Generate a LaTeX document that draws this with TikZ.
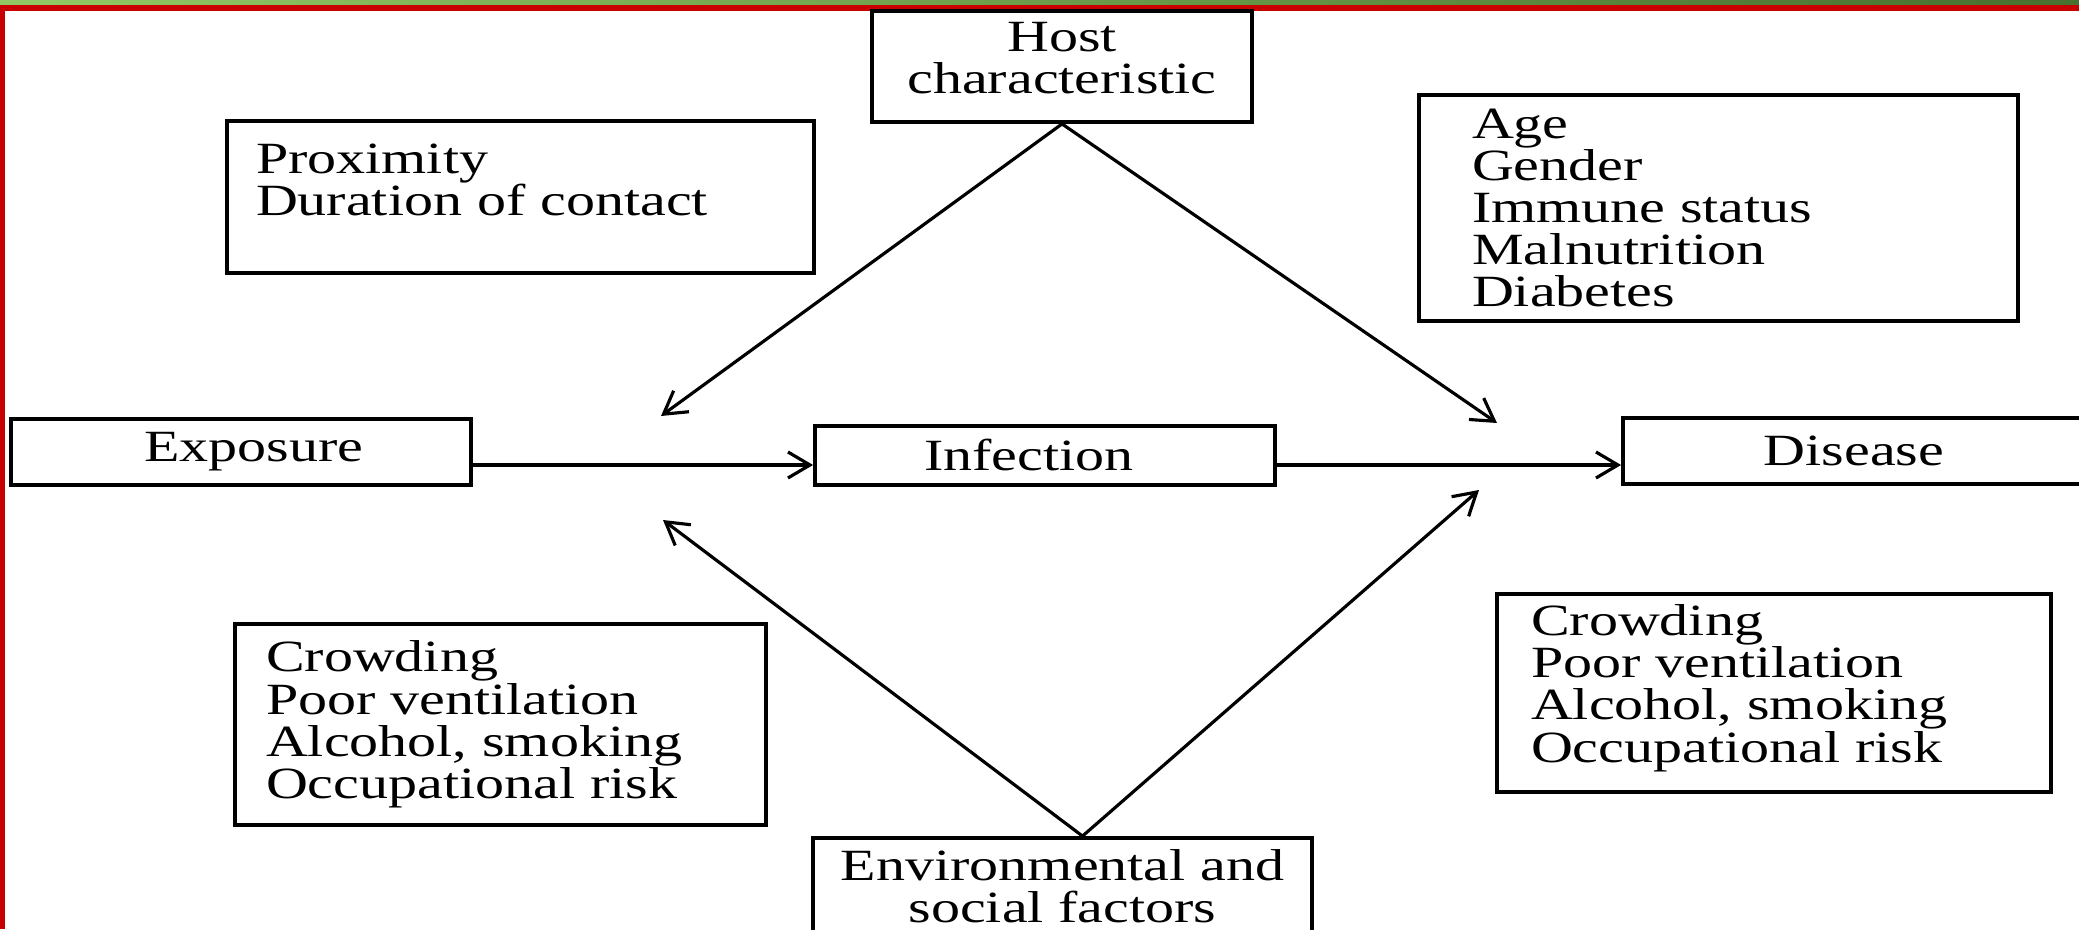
\documentclass[tikz,border=0pt]{standalone}
\usepackage{fontspec}
\setmainfont{Liberation Serif}[FakeStretch=1.3]
\usetikzlibrary{arrows.meta}
\definecolor{framered}{RGB}{200,0,0}
\definecolor{barlight}{RGB}{146,200,100}
\definecolor{bardark}{RGB}{72,112,48}

\begin{document}
\begin{tikzpicture}[
  >={Straight Barb[length=2.2mm,width=2.6mm]},
  box/.style={draw, line width=1.1pt, inner sep=0pt, font=\fontsize{12.7}{12}\selectfont},
  listbox/.style={box, align=left}
]
\useasboundingbox (0,0) rectangle (20.79,9.29);
\shade[left color=barlight, right color=bardark] (0,9.24) rectangle (20.79,9.29);
\fill[framered] (0,9.18) rectangle (20.79,9.24);
\fill[framered] (0,0) rectangle (0.05,9.24);

\node[box, minimum width=3.8cm, minimum height=1.11cm, text width=3.6cm, align=center] (host) at (10.62,8.625) {Host\\characteristic\par\vspace{0.16cm}\kern0pt};
\node[listbox, inner xsep=0.29cm, text width=5.29cm, minimum height=1.52cm] (prox) at (5.205,7.32) {Proximity\\Duration of contact\par\vspace{0.34cm}\kern0pt};
\node[listbox, inner xsep=0.53cm, text width=4.93cm, minimum height=2.26cm] (age) at (17.185,7.21) {Age\\Gender\\Immune status\\Malnutrition\\Diabetes};
\node[box, minimum width=4.6cm, minimum height=0.66cm] (expo) at (2.41,4.77) {\hspace*{0.26cm}Exposure};
\node[box, minimum width=4.6cm, minimum height=0.59cm] (infect) at (10.45,4.735) {Infection\hspace*{0.32cm}};
\node[box, minimum width=4.62cm, minimum height=0.66cm] (disease) at (18.54,4.78) {Disease};
\node[listbox, inner xsep=0.31cm, text width=4.69cm, minimum height=2.01cm] (crowdl) at (5.005,2.045) {Crowding\\Poor ventilation\\Alcohol, smoking\\Occupational risk};
\node[listbox, inner xsep=0.34cm, text width=4.86cm, minimum height=1.98cm] (crowdr) at (17.74,2.36) {Crowding\\Poor ventilation\\Alcohol, smoking\\Occupational risk\par\vspace{0.1cm}\kern0pt};
\node[box, minimum width=4.99cm, minimum height=0.96cm, align=center] (env) at (10.625,0.43) {Environmental and\\social factors};

\coordinate (hl) at (6.61,5.13);
\coordinate (hr) at (14.97,5.06);
\coordinate (el) at (6.63,4.09);
\coordinate (er) at (14.79,4.39);
\coordinate (mid) at (0,4.64);

\draw [->][line width=0.9pt] (host.south) -- (hl);
\draw [->][line width=0.9pt] (host.south) -- (hr);
\draw [->][line width=0.9pt] ([xshift=0.2cm]env.north) -- (el);
\draw [->][line width=0.9pt] ([xshift=0.2cm]env.north) -- (er);
\draw [->][line width=0.9pt] (expo.east |- mid) -- (infect.west |- mid);
\draw [->][line width=0.9pt] (infect.east |- mid) -- (disease.west |- mid);
\end{tikzpicture}
\end{document}
